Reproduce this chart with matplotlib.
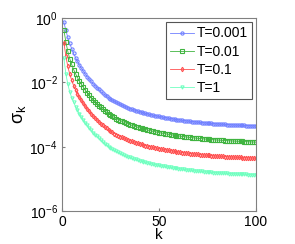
import numpy as np
import matplotlib
matplotlib.use('Agg')
import matplotlib.pyplot as plt

plt.rcParams['font.family'] = ['Liberation Sans', 'DejaVu Sans']
plt.rcParams['mathtext.fontset'] = 'custom'
plt.rcParams['mathtext.rm'] = 'Liberation Sans'
plt.rcParams['mathtext.it'] = 'Liberation Sans:italic'

k = list(range(1, 101))

# log10(sigma_k)
log_sigma_0001 = [
    -0.13, -0.38, -0.60, -0.79, -0.95, -1.10, -1.23, -1.35, -1.46, -1.56,
    -1.65, -1.74, -1.82, -1.90, -1.97, -2.04, -2.10, -2.16, -2.22, -2.28,
    -2.335, -2.385, -2.43, -2.475, -2.515, -2.555, -2.59, -2.625, -2.655, -2.685,
    -2.713, -2.740, -2.765, -2.789, -2.812, -2.834, -2.855, -2.875, -2.894, -2.912,
    -2.930, -2.947, -2.963, -2.979, -2.994, -3.008, -3.022, -3.035, -3.048, -3.060,
    -3.072, -3.083, -3.094, -3.105, -3.115, -3.125, -3.135, -3.145, -3.154, -3.163,
    -3.172, -3.180, -3.188, -3.196, -3.204, -3.211, -3.218, -3.225, -3.232, -3.238,
    -3.244, -3.250, -3.256, -3.262, -3.267, -3.272, -3.277, -3.282, -3.287, -3.291,
    -3.295, -3.299, -3.303, -3.307, -3.311, -3.315, -3.318, -3.322, -3.325, -3.328,
    -3.331, -3.334, -3.337, -3.340, -3.343, -3.346, -3.349, -3.352, -3.355, -3.358]

log_sigma_001 = [
    -0.37, -0.74, -1.03, -1.26, -1.44, -1.60, -1.73, -1.85, -1.96, -2.06,
    -2.15, -2.24, -2.32, -2.40, -2.47, -2.54, -2.60, -2.66, -2.72, -2.78,
    -2.835, -2.885, -2.93, -2.975, -3.015, -3.055, -3.09, -3.125, -3.155, -3.185,
    -3.213, -3.240, -3.265, -3.289, -3.312, -3.334, -3.355, -3.375, -3.394, -3.412,
    -3.430, -3.447, -3.463, -3.479, -3.494, -3.508, -3.522, -3.535, -3.548, -3.560,
    -3.572, -3.583, -3.594, -3.605, -3.615, -3.625, -3.635, -3.645, -3.654, -3.663,
    -3.672, -3.680, -3.688, -3.696, -3.704, -3.711, -3.718, -3.725, -3.732, -3.738,
    -3.744, -3.750, -3.756, -3.762, -3.767, -3.772, -3.777, -3.782, -3.787, -3.791,
    -3.795, -3.799, -3.803, -3.807, -3.811, -3.815, -3.818, -3.822, -3.825, -3.828,
    -3.831, -3.834, -3.837, -3.840, -3.843, -3.846, -3.849, -3.852, -3.855, -3.858]

log_sigma_01 = [
    -0.76, -1.18, -1.50, -1.74, -1.93, -2.10, -2.23, -2.35, -2.46, -2.56,
    -2.65, -2.74, -2.82, -2.90, -2.97, -3.04, -3.10, -3.16, -3.22, -3.28,
    -3.335, -3.385, -3.43, -3.475, -3.515, -3.555, -3.59, -3.625, -3.655, -3.685,
    -3.713, -3.740, -3.765, -3.789, -3.812, -3.834, -3.855, -3.875, -3.894, -3.912,
    -3.930, -3.947, -3.963, -3.979, -3.994, -4.008, -4.022, -4.035, -4.048, -4.060,
    -4.072, -4.083, -4.094, -4.105, -4.115, -4.125, -4.135, -4.145, -4.154, -4.163,
    -4.172, -4.180, -4.188, -4.196, -4.204, -4.211, -4.218, -4.225, -4.232, -4.238,
    -4.244, -4.250, -4.256, -4.262, -4.267, -4.272, -4.277, -4.282, -4.287, -4.291,
    -4.295, -4.299, -4.303, -4.307, -4.311, -4.315, -4.318, -4.322, -4.325, -4.328,
    -4.331, -4.334, -4.337, -4.340, -4.343, -4.346, -4.349, -4.352, -4.355, -4.358]

log_sigma_1 = [
    -1.25, -1.73, -2.05, -2.29, -2.47, -2.62, -2.75, -2.87, -2.98, -3.08,
    -3.17, -3.26, -3.34, -3.42, -3.49, -3.56, -3.62, -3.68, -3.74, -3.80,
    -3.855, -3.905, -3.95, -3.995, -4.035, -4.075, -4.11, -4.145, -4.175, -4.205,
    -4.233, -4.260, -4.285, -4.309, -4.332, -4.354, -4.375, -4.395, -4.414, -4.432,
    -4.450, -4.467, -4.483, -4.499, -4.514, -4.528, -4.542, -4.555, -4.568, -4.580,
    -4.592, -4.603, -4.614, -4.625, -4.635, -4.645, -4.655, -4.665, -4.674, -4.683,
    -4.692, -4.700, -4.708, -4.716, -4.724, -4.731, -4.738, -4.745, -4.752, -4.758,
    -4.764, -4.770, -4.776, -4.782, -4.787, -4.792, -4.797, -4.802, -4.807, -4.811,
    -4.815, -4.819, -4.823, -4.827, -4.831, -4.835, -4.838, -4.842, -4.845, -4.848,
    -4.851, -4.854, -4.857, -4.860, -4.863, -4.866, -4.869, -4.872, -4.875, -4.878]

labels = ['T=0.001', 'T=0.01', 'T=0.1', 'T=1']
series = [log_sigma_0001, log_sigma_001, log_sigma_01, log_sigma_1]
colors = ['#7080ff', '#40b440', '#ff5050', '#70ffc0']
markers = ['o', 's', 'd', 'v']

fig = plt.figure(figsize=(2.95, 2.44), dpi=100)
ax = fig.add_axes([0.21, 0.135, 0.658, 0.791])

for vals, lab, c, m in zip(series, labels, colors, markers):
    ax.semilogy(k, 10.0 ** np.array(vals), color=c, marker=m, markersize=2.3,
                markerfacecolor='none', markeredgewidth=0.8, linewidth=0.6,
                label=lab)

ax.set_xlim(0, 100)
ax.set_ylim(1e-6, 1)
ax.set_xticks([0, 50, 100])
ax.set_yticks([1e-6, 1e-4, 1e-2, 1])
ax.minorticks_off()
ax.tick_params(direction='in', length=2, labelsize=10, color='#808080', pad=3)
for s in ax.spines.values():
    s.set_color('#808080')

ax.set_xlabel('k', fontsize=11, labelpad=-1)
ax.set_ylabel(r'$\mathrm{\sigma_k}$', fontsize=13, labelpad=1)

leg = ax.legend(loc='upper right', fontsize=10, fancybox=False, framealpha=1,
                edgecolor='#555555', borderaxespad=0.3, handlelength=1.7,
                handletextpad=0.2, labelspacing=0.3, borderpad=0.3)
leg.get_frame().set_linewidth(0.8)

plt.savefig('out.png', dpi=100)
